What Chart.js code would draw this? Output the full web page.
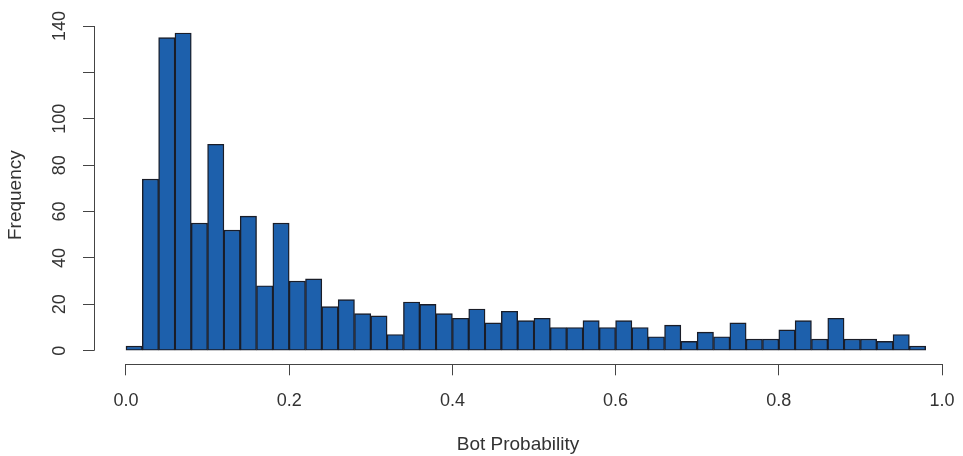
<!DOCTYPE html>
<html lang="en">
<head>
    <meta charset="UTF-8">
    <title>Bot Probability Histogram</title>
    <script src="https://cdn.jsdelivr.net/npm/chart.js"></script>
    <style>
        html, body {
            margin: 0;
            padding: 0;
            background: #fff;
        }
        #histChart {
            display: block;
        }
    </style>
</head>
<body>
    <canvas id="histChart" width="963" height="456"></canvas>

    <script>
        // histogram bins: width 0.02, starting at 0
        const binWidth = 0.02;
        const counts = [
            2, 74, 135, 137, 55, 89, 52, 58, 28, 55,
            30, 31, 19, 22, 16, 15, 7, 21, 20, 16,
            14, 18, 12, 17, 13, 14, 10, 10, 13, 10,
            13, 10, 6, 11, 4, 8, 6, 12, 5, 5,
            9, 13, 5, 14, 5, 5, 4, 7, 2
        ];
        const xTicks = [0, 0.2, 0.4, 0.6, 0.8, 1.0];
        const yTicks = [0, 20, 40, 60, 80, 100, 120, 140];
        const yHidden = [120]; // R drops this label (overlap)

        const axisColor = '#444';
        const textColor = '#333';
        const fontFamily = "'Liberation Sans', Arial, sans-serif";

        const points = counts.map((c, i) => ({ x: (i + 0.5) * binWidth, y: c }));

        // R-style detached axis lines, from first to last tick
        const rAxisLines = {
            id: 'rAxisLines',
            afterDraw(chart) {
                const { ctx, chartArea, scales } = chart;
                const x = scales.x, y = scales.y;
                ctx.save();
                ctx.strokeStyle = axisColor;
                ctx.lineWidth = 1;
                ctx.beginPath();
                const by = Math.round(chartArea.bottom) + 0.5;
                ctx.moveTo(x.getPixelForValue(xTicks[0]), by);
                ctx.lineTo(x.getPixelForValue(xTicks[xTicks.length - 1]), by);
                const lx = Math.round(chartArea.left) + 0.5;
                ctx.moveTo(lx, y.getPixelForValue(yTicks[0]));
                ctx.lineTo(lx, y.getPixelForValue(yTicks[yTicks.length - 1]));
                ctx.stroke();
                ctx.restore();
            }
        };

        const ctx = document.getElementById('histChart').getContext('2d');
        const histChart = new Chart(ctx, {
            type: 'bar',
            data: {
                datasets: [{
                    data: points,
                    backgroundColor: '#1d60ac',
                    borderColor: '#1a1d28',
                    borderWidth: 1.4,
                    borderSkipped: false,
                    barPercentage: 1.0,
                    categoryPercentage: 1.0
                }]
            },
            options: {
                responsive: false,
                animation: false,
                layout: { padding: { left: 0, right: 21, top: 26, bottom: 0 } },
                plugins: {
                    legend: { display: false },
                    tooltip: { enabled: false }
                },
                scales: {
                    x: {
                        type: 'linear',
                        offset: false,
                        min: -0.0392,
                        max: 1.0,
                        afterBuildTicks: (scale) => {
                            scale.ticks = xTicks.map(v => ({ value: v }));
                        },
                        afterFit: (scale) => {
                            scale.height = 91.7;
                            scale.paddingLeft = 0;
                            scale.paddingRight = 0;
                        },
                        grid: {
                            offset: false,
                            drawOnChartArea: false,
                            drawTicks: true,
                            tickLength: 11,
                            color: axisColor
                        },
                        border: { display: false },
                        ticks: {
                            maxRotation: 0,
                            padding: 15,
                            color: textColor,
                            font: { family: fontFamily, size: 18 },
                            callback: (v) => Number(v).toFixed(1)
                        },
                        title: {
                            display: true,
                            text: 'Bot Probability',
                            color: textColor,
                            font: { family: fontFamily, size: 19 },
                            padding: { top: 2, bottom: 0 }
                        }
                    },
                    y: {
                        min: -5.86,
                        max: 140,
                        afterBuildTicks: (scale) => {
                            scale.ticks = yTicks.map(v => ({ value: v }));
                        },
                        afterFit: (scale) => { scale.width = 94; },
                        grid: {
                            drawOnChartArea: false,
                            drawTicks: true,
                            tickLength: 11,
                            color: axisColor
                        },
                        border: { display: false },
                        ticks: {
                            minRotation: 90,
                            maxRotation: 90,
                            crossAlign: 'center',
                            padding: 8,
                            color: textColor,
                            font: { family: fontFamily, size: 18 },
                            callback: (v) => yHidden.includes(v) ? '' : String(v)
                        },
                        title: {
                            display: true,
                            text: 'Frequency',
                            color: textColor,
                            font: { family: fontFamily, size: 19 },
                            padding: { top: 4, bottom: 0 }
                        }
                    }
                }
            },
            plugins: [rAxisLines]
        });
    </script>
</body>
</html>
